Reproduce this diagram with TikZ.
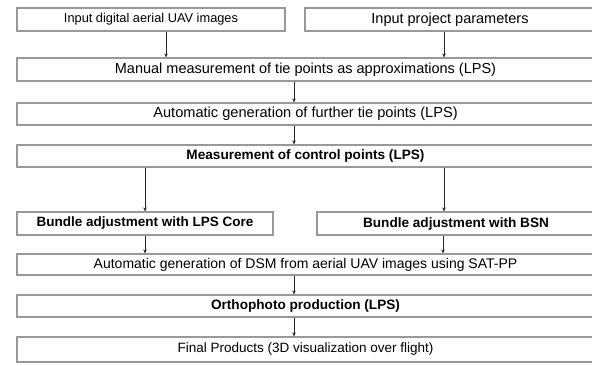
\documentclass[tikz,border=0pt]{standalone}
\usepackage{fontspec}
\setmainfont{Liberation Sans}
\usetikzlibrary{arrows.meta}
\begin{document}
\begin{tikzpicture}[x=1pt,y=-1pt,
  boxline/.style={draw=black!40, line width=1.2pt, inner sep=0pt},
  lbl/.style={inner sep=0pt, font=\fontsize{#1}{15}\selectfont, text=black},
  blbl/.style={inner sep=0pt, font=\fontsize{#1}{15}\selectfont\bfseries, text=black},
  arr/.style={draw=black!85, line width=0.8pt, -{Stealth[length=4pt,width=3.5pt]}}]
\useasboundingbox (0,0) rectangle (592,365);
\clip (0,0) rectangle (592,365);
% boxes
\node[boxline, minimum width=268pt, minimum height=23pt] (b1) at (151,19.5) {};
\node[lbl=12.8] (t1) at (b1.center) {Input digital aerial UAV images};
\node[boxline, minimum width=290pt, minimum height=23pt] (b2) at (450,19.5) {};
\node[lbl=14.5] (t2) at (b2.center) {Input project parameters};
\node[boxline, minimum width=577pt, minimum height=23pt] (b3) at (305.5,69.5) {};
\node[lbl=14.5] (t3) at (b3.center) {Manual measurement of tie points as approximations (LPS)};
\node[boxline, minimum width=577pt, minimum height=22pt] (b4) at (305.5,114) {};
\node[lbl=14.6] (t4) at (b4.center) {Automatic generation of further tie points (LPS)};
\node[boxline, minimum width=577pt, minimum height=22pt] (b5) at (305.5,156) {};
\node[blbl=13.6] (t5) at (b5.center) {Measurement of control points (LPS)};
\node[boxline, minimum width=256pt, minimum height=23pt] (b6l) at (145,223.5) {};
\node[blbl=13.5] (t6l) at (b6l.center) {Bundle adjustment with LPS Core};
\node[boxline, minimum width=278pt, minimum height=23pt] (b6r) at (456,223.5) {};
\node[blbl=13.6] (t6r) at (b6r.center) {Bundle adjustment with BSN};
\node[boxline, minimum width=577pt, minimum height=21pt] (b7) at (305.5,264.5) {};
\node[lbl=14] (t7) at (b7.center) {Automatic generation of DSM from aerial UAV images using SAT-PP};
\node[boxline, minimum width=577pt, minimum height=22pt] (b8) at (305.5,306) {};
\node[blbl=13.6] (t8) at (b8.center) {Orthophoto production (LPS)};
\node[boxline, minimum width=577pt, minimum height=25pt] (b9) at (305.5,349.5) {};
\node[lbl=13.5] (t9) at (b9.center) {Final Products (3D visualization over flight)};
% arrows
\draw[arr] (b1.south -| 166,0) -- (b3.north -| 166,0);
\draw[arr] (b2.south -| 444,0) -- (b3.north -| 444,0);
\draw[arr] (b3.south -| 294,0) -- (b4.north -| 294,0);
\draw[arr] (b4.south -| 294,0) -- (b5.north -| 294,0);
\draw[arr] (b5.south -| 145,0) -- (b6l.north -| 145,0);
\draw[arr] (b5.south -| 444,0) -- (b6r.north -| 444,0);
\draw[arr] (b6l.south -| 145,0) -- (b7.north -| 145,0);
\draw[arr] (b6r.south -| 443,0) -- (b7.north -| 443,0);
\draw[arr] (b7.south -| 294,0) -- (b8.north -| 294,0);
\draw[arr] (b8.south -| 294,0) -- (b9.north -| 294,0);
\end{tikzpicture}
\end{document}
